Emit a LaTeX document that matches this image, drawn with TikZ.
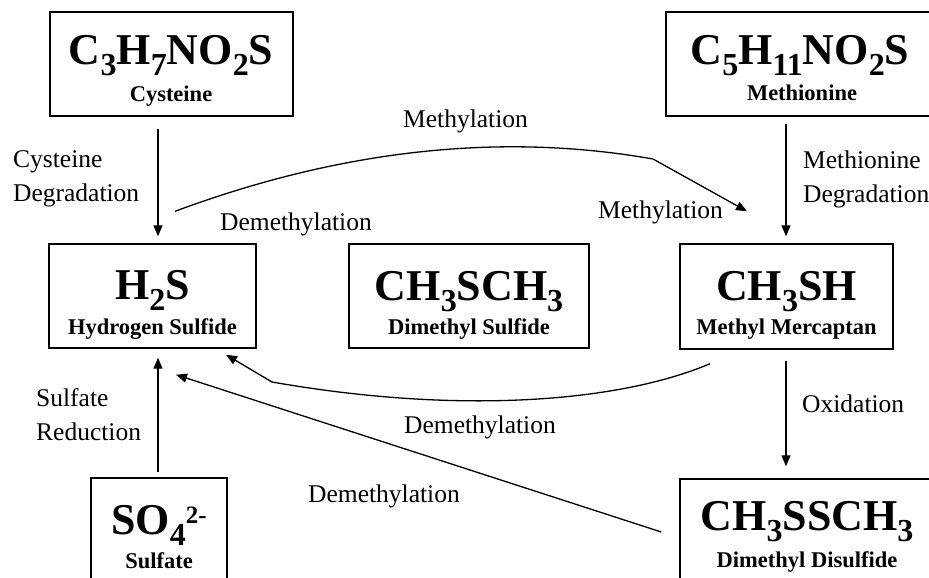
\documentclass[tikz,border=0pt]{standalone}
\usepackage{fontspec}
\setmainfont{Liberation Serif}
\usetikzlibrary{arrows.meta}
\newcommand{\chsub}[1]{\raisebox{-11pt}[\height][0pt]{\fontsize{32}{32}\selectfont #1}}
\newcommand{\chsup}[1]{\raisebox{11pt}{\fontsize{25}{25}\selectfont #1}}
\begin{document}
\begin{tikzpicture}[x=1pt,y=-1pt,
  box/.style={draw, line width=1.4pt, inner sep=0pt, minimum height=104pt},
  formula/.style={font=\bfseries\fontsize{44}{50}\selectfont, anchor=base, inner sep=0pt},
  subt/.style={font=\bfseries\fontsize{22.5}{27}\selectfont, anchor=base, inner sep=0pt},
  lbl/.style={font=\fontsize{25.5}{30}\selectfont, anchor=base west, inner sep=0pt},
  arr/.style={-{Triangle[length=11pt,width=9pt]}, line width=1.3pt}]
\useasboundingbox (0,0) rectangle (929,578);
% boxes
\node[box, minimum width=243pt] (cys) at (171.5,64) {};
\node[box, minimum width=272pt] (met) at (802,64) {};
\node[box, minimum width=207pt] (h2s) at (152.5,296) {};
\node[box, minimum width=240pt] (dms) at (469,296) {};
\node[box, minimum width=213pt, minimum height=105pt] (mm) at (786.5,296.5) {};
\node[box, minimum width=254pt] (dmds) at (807,531) {};
\node[box, minimum width=136pt] (so4) at (159,530) {};
% box texts
\node[formula] (cysf) at (171,65) {C\chsub{3}H\chsub{7}NO\chsub{2}S};
\node[subt] (cyst) at (171,101) {Cysteine};
\node[formula] (metf) at (800,65) {C\chsub{5}H\chsub{11}NO\chsub{2}S};
\node[subt] (mett) at (802,100) {Methionine};
\node[formula] (h2sf) at (152.5,299) {H\chsub{2}S};
\node[subt] (h2st) at (152.5,334) {Hydrogen Sulfide};
\node[formula] (dmsf) at (469,300) {CH\chsub{3}SCH\chsub{3}};
\node[subt] (dmst) at (469,334) {Dimethyl Sulfide};
\node[formula] (mmf) at (786.5,300) {CH\chsub{3}SH};
\node[subt] (mmt) at (786.5,334) {Methyl Mercaptan};
\node[formula] (dmdsf) at (807,530) {CH\chsub{3}SSCH\chsub{3}};
\node[subt] (dmdst) at (807,567) {Dimethyl Disulfide};
\node[formula] (so4f) at (159,534) {SO\chsub{4}\chsup{2-}};
\node[subt] (so4t) at (159,568) {Sulfate};
% labels
\node[lbl] (l1) at (13,167) {Cysteine};
\node[lbl] (l2) at (13,201) {Degradation};
\node[lbl] (l3) at (803,168) {Methionine};
\node[lbl] (l4) at (803,202) {Degradation};
\node[lbl] (l5) at (403,127) {Methylation};
\node[lbl] (l6) at (220,230) {Demethylation};
\node[lbl] (l7) at (598,218) {Methylation};
\node[lbl] (l8) at (802,412) {Oxidation};
\node[lbl] (l9) at (404,433) {Demethylation};
\node[lbl] (l10) at (308,502) {Demethylation};
\node[lbl] (l11) at (36,406) {Sulfate};
\node[lbl] (l12) at (36,440) {Reduction};
% straight arrows
\draw[arr] ([shift={(-13.5,12)}]cys.south) -- ([shift={(5.5,-7)}]h2s.north);
\draw[arr] ([shift={(-16,7)}]met.south) -- ([shift={(-0.5,-7)}]mm.north);
\draw[arr] ([shift={(-0.5,11)}]mm.south) -- ([shift={(-21,-12)}]dmds.north);
\draw[arr] ([shift={(-1,-5)}]so4.north) -- ([shift={(5.5,9)}]h2s.south);
\draw[arr] ([shift={(-18,1)}]dmds.west) -- ([shift={(23.5,26)}]h2s.south);
% curved arrows
\coordinate (k1) at (653,159);
\draw[arr] ([shift={(22.5,-32)}]h2s.north) .. controls (340,150) and (500,132) .. (k1) -- ([shift={(-39.5,-32)}]mm.north);
\coordinate (k2) at (272,382);
\draw[arr] ([shift={(-76.5,14)}]mm.south) .. controls (620,402) and (460,415) .. (k2) -- ([shift={(73.5,6)}]h2s.south);
\end{tikzpicture}
\end{document}
